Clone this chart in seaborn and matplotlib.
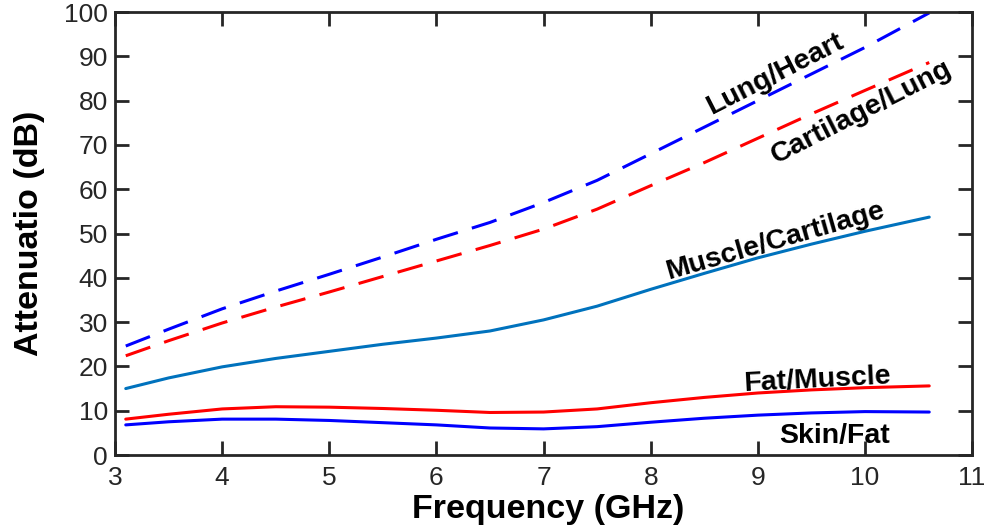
import matplotlib
matplotlib.use("Agg")
import matplotlib.pyplot as plt
import seaborn as sns
import pandas as pd

# Frequency grid (GHz)
freq = [3.1, 3.5, 4.0, 4.5, 5.0, 5.5, 6.0, 6.5, 7.0, 7.5, 8.0, 8.5, 9.0, 9.5, 10.0, 10.6]

# Attenuation at each tissue interface (dB)
lung_heart = [24.6, 28.4, 33.0, 37.0, 40.8, 44.7, 48.7, 52.5, 57.0, 62.0, 68.0, 74.0, 80.0, 86.0, 92.0, 99.8]
cartilage_lung = [22.4, 25.8, 29.8, 33.4, 36.8, 40.3, 43.8, 47.3, 51.0, 55.5, 60.8, 66.0, 71.5, 77.0, 82.3, 88.6]
muscle_cartilage = [15.0, 17.4, 19.9, 21.8, 23.4, 25.0, 26.4, 28.0, 30.5, 33.6, 37.4, 41.0, 44.5, 47.6, 50.5, 53.7]
fat_muscle = [8.1, 9.2, 10.4, 10.9, 10.8, 10.5, 10.1, 9.6, 9.7, 10.4, 11.8, 13.0, 14.0, 14.7, 15.2, 15.6]
skin_fat = [6.8, 7.5, 8.1, 8.1, 7.8, 7.3, 6.8, 6.1, 5.9, 6.4, 7.4, 8.3, 9.0, 9.5, 9.8, 9.7]

xticks = [3, 4, 5, 6, 7, 8, 9, 10, 11]
yticks = [0, 10, 20, 30, 40, 50, 60, 70, 80, 90, 100]

sns.set_style("white")
plt.rcParams["font.family"] = ["Liberation Sans", "DejaVu Sans"]

fig = plt.figure(figsize=(9.9, 5.31), dpi=100)
ax = fig.add_axes([0.1162, 0.1431, 0.8657, 0.8343])

series = [
    ("Lung/Heart", lung_heart, "#0000FF", True),
    ("Cartilage/Lung", cartilage_lung, "#FF0000", True),
    ("Muscle/Cartilage", muscle_cartilage, "#0072BD", False),
    ("Fat/Muscle", fat_muscle, "#FF0000", False),
    ("Skin/Fat", skin_fat, "#0000FF", False),
]

for name, vals, color, dashed in series:
    df = pd.DataFrame({"freq": freq, "att": vals})
    line_ax = sns.lineplot(data=df, x="freq", y="att", ax=ax, color=color,
                           linewidth=2.2, legend=False)
    ln = line_ax.get_lines()[-1]
    if dashed:
        ln.set_dashes((8.5, 4.8))

ax.set_xlim(3, 11)
ax.set_ylim(0, 100)
ax.set_xticks(xticks)
ax.set_yticks(yticks)
ax.set_xticklabels([str(t) for t in xticks])
ax.set_yticklabels([str(t) for t in yticks])

edge = "#262626"
for sp in ax.spines.values():
    sp.set_visible(True)
    sp.set_color(edge)
    sp.set_linewidth(2.0)

ax.tick_params(axis="both", which="major", direction="in", length=10, width=2.0,
               color=edge, labelcolor=edge, labelsize=19,
               top=True, right=True, bottom=True, left=True)
ax.tick_params(axis="x", pad=8)
ax.tick_params(axis="y", pad=5)

ax.set_xlabel("Frequency (GHz)", fontsize=24.5, fontweight="bold", color="black")
ax.set_ylabel("Attenuatio (dB)", fontsize=24.5, fontweight="bold", color="black")
ax.xaxis.set_label_coords(0.505, -0.122)
ax.xaxis.label.set_va("center")
ax.yaxis.set_label_coords(-0.100, 0.5)
ax.yaxis.label.set_va("center")

# Curve labels
lab = dict(fontsize=20.5, fontweight="bold", color="black", ha="center",
           va="center", rotation_mode="anchor")
ax.text(9.16, 86.0, "Lung/Heart", rotation=27, **lab)
ax.text(9.97, 77.4, "Cartilage/Lung", rotation=27, **lab)
ax.text(9.16, 48.3, "Muscle/Cartilage", rotation=16, **lab)
ax.text(9.55, 17.0, "Fat/Muscle", rotation=3, **lab)
ax.text(9.72, 4.4, "Skin/Fat", rotation=0, **lab)

fig.savefig("out.png", dpi=100)
